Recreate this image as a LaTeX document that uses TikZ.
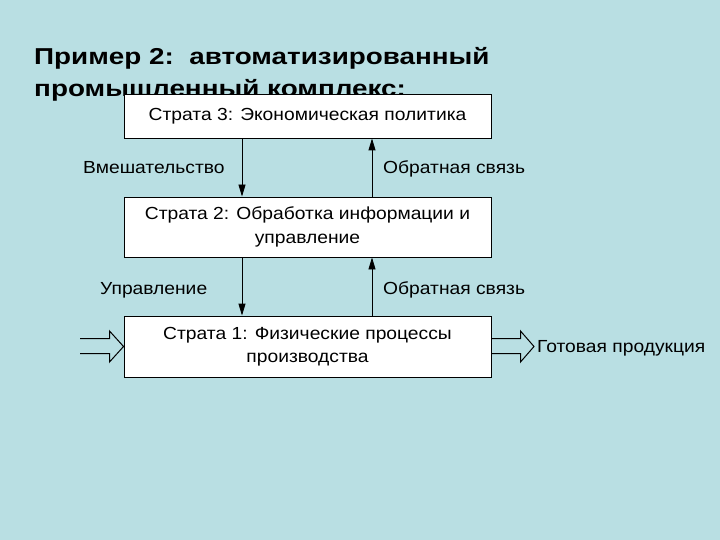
\documentclass[tikz,border=0pt]{standalone}
\usepackage{fontspec}
\setmainfont{Liberation Sans}
\newfontfamily\boxfont[FakeStretch=1.1]{Liberation Sans}
\newfontfamily\titlefont[FakeStretch=1.21]{Liberation Sans Bold}
\usetikzlibrary{arrows.meta}
\definecolor{bgc}{RGB}{185,223,227}
\tikzset{
  boxn/.style={draw=black, fill=white, line width=0.9pt, minimum width=367pt, inner sep=0pt, align=center, font=\boxfont\fontsize{17.5}{23.5}\selectfont},
  lbl/.style={inner sep=0pt, anchor=base west, font=\boxfont\fontsize{17.5}{22}\selectfont},
  ttl/.style={inner sep=0pt, anchor=base west, font=\titlefont\fontsize{23}{32}\selectfont},
  conn/.style={line width=0.9pt, -{Triangle[length=12pt,width=7pt]}},
  dbl/.style={draw=black, line width=1pt, line join=miter}
}
\begin{document}
\begin{tikzpicture}[x=1pt,y=-1pt]
\useasboundingbox (0,0) rectangle (720,540);
\fill[bgc] (0,0) rectangle (720,540);
\node[ttl] (t1) at (34,64.3) {Пример 2:\ \ автоматизированный};
\node[ttl] (t2) at (34,96.7) {промышленный комплекс:};
\node[boxn, minimum height=44pt] (s3) at (307.5,116) {Страта 3: Экономическая политика};
\node[boxn, minimum height=60pt] (s2) at (307.5,227) {Страта 2: Обработка информации и\\управление};
\node[boxn, minimum height=61pt] (s1) at (307.5,346.5) {Страта 1: Физические процессы\\производства};
\coordinate (lx) at (242,0);
\coordinate (rx) at (372,0);
\draw[conn] (s3.south -| lx) -- (s2.north -| lx);
\draw[conn] (s2.north -| rx) -- (s3.south -| rx);
\draw[conn] (s2.south -| lx) -- (s1.north -| lx);
\draw[conn] (s1.north -| rx) -- (s2.south -| rx);
\node[lbl] (l1) at (83,174) {Вмешательство};
\node[lbl] (l2) at (383,174) {Обратная связь};
\node[lbl] (l3) at (100,294) {Управление};
\node[lbl] (l4) at (383,294) {Обратная связь};
\node[lbl] (l5) at (537,352) {Готовая продукция};
\coordinate (inA) at (80,338.5);
\coordinate (inB) at (80,353.5);
\coordinate (outT) at (534,346.5);
\draw[dbl] (inA) -- (109.5,338.5) -- (109.5,331) -- (s1.west) -- (109.5,362) -- (109.5,353.5) -- (inB);
\draw[dbl] (s1.east |- 0,338.5) -- (520.5,338.5) -- (520.5,331) -- (outT) -- (520.5,362) -- (520.5,353.5) -- (s1.east |- 0,353.5);
\end{tikzpicture}
\end{document}
